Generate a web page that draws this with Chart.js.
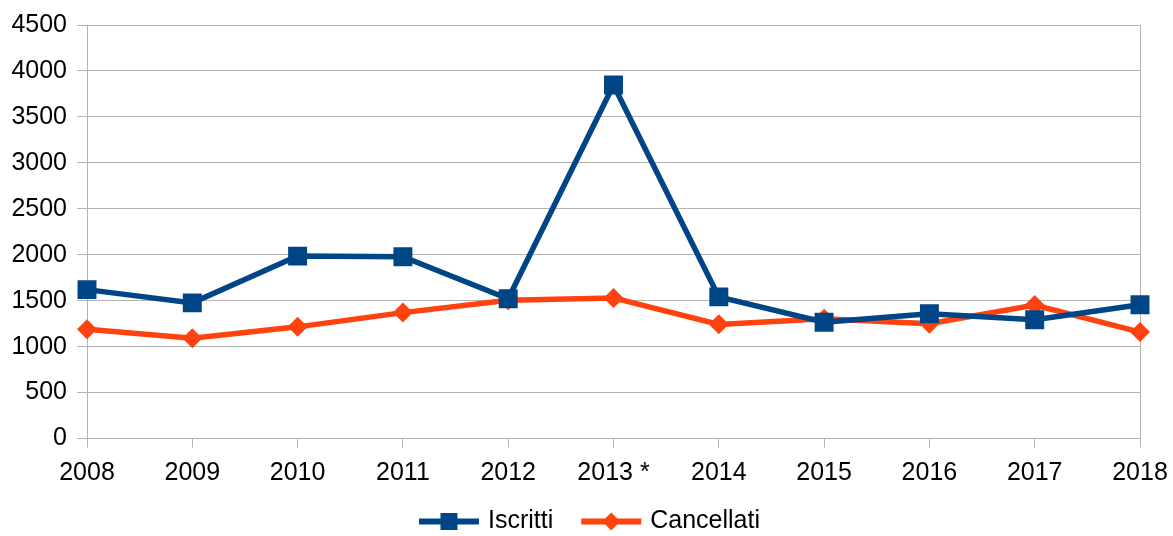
<!DOCTYPE html>
<html><head><meta charset="utf-8">
<script src="https://cdn.jsdelivr.net/npm/chart.js@4/dist/chart.umd.min.js"></script>
<style>html,body{margin:0;padding:0;background:#fff}#wrap{width:1173px;height:536px;position:relative}</style>
</head><body><div id="wrap"><canvas id="c" width="1173" height="536"></canvas></div>
<script>
const years = ['2008','2009','2010','2011','2012','2013 *','2014','2015','2016','2017','2018'];
const iscritti = [1620, 1476, 1985, 1978, 1520, 3848, 1541, 1265, 1358, 1293, 1456];
const cancellati = [1190, 1092, 1215, 1370, 1505, 1530, 1242, 1302, 1250, 1452, 1158];
const yTickValues = [0, 500, 1000, 1500, 2000, 2500, 3000, 3500, 4000, 4500];
const seriesNames = ['Iscritti', 'Cancellati'];

const BLUE = '#004586', ORANGE = '#ff420e', GRID = '#b3b3b3';
const FONT = {family: '"Liberation Sans", Arial, sans-serif', size: 25};

const lineLegend = {
  id: 'lineLegend',
  afterDraw(chart) {
    const ctx = chart.ctx;
    ctx.save();
    ctx.font = '25px "Liberation Sans", Arial, sans-serif';
    const items = chart.data.datasets.map(ds => ({ds, w: ctx.measureText(ds.label).width}));
    const lineW = 60, gap = 9, sep = 28;
    const total = items.reduce((s, it) => s + lineW + gap + it.w, 0) + sep * (items.length - 1);
    let x = (chart.width - total) / 2 + 3;
    const y = 521.5;
    items.forEach(it => {
      const c = it.ds.borderColor;
      ctx.strokeStyle = c; ctx.fillStyle = c; ctx.lineWidth = 6;
      ctx.beginPath(); ctx.moveTo(x, y); ctx.lineTo(x + lineW, y); ctx.stroke();
      const cx = x + lineW / 2;
      ctx.beginPath();
      if (it.ds.pointStyle === 'rect') {
        ctx.rect(cx - 8.5, y - 8.5, 17, 17);
      } else {
        ctx.moveTo(cx - 9, y); ctx.lineTo(cx, y - 9); ctx.lineTo(cx + 9, y); ctx.lineTo(cx, y + 9); ctx.closePath();
      }
      ctx.fill();
      ctx.fillStyle = '#000'; ctx.textBaseline = 'middle'; ctx.textAlign = 'left';
      ctx.fillText(it.ds.label, x + lineW + gap, y);
      x += lineW + gap + it.w + sep;
    });
    ctx.restore();
  }
};

new Chart(document.getElementById('c'), {
  type: 'line',
  data: {
    labels: years,
    datasets: [
      {label: seriesNames[0], data: iscritti, borderColor: BLUE, backgroundColor: BLUE, borderWidth: 5.5,
       pointStyle: 'rect', pointRadius: 13.4, pointBorderWidth: 0, pointBackgroundColor: BLUE, tension: 0},
      {label: seriesNames[1], data: cancellati, borderColor: ORANGE, backgroundColor: ORANGE, borderWidth: 5.5,
       pointStyle: 'rectRot', pointRadius: 10, pointBorderWidth: 0, pointBackgroundColor: ORANGE, tension: 0}
    ]
  },
  options: {
    responsive: false, animation: false, devicePixelRatio: 1,
    layout: {padding: {top: 25, right: 33, left: 0, bottom: 37.5}},
    plugins: {legend: {display: false}, tooltip: {enabled: false}},
    scales: {
      x: {
        offset: false,
        grid: {color: ctx => ctx.index === years.length - 1 ? GRID : 'rgba(0,0,0,0)', tickColor: GRID, tickLength: 9, lineWidth: 1},
        border: {display: true, color: GRID, width: 1},
        ticks: {color: '#000', font: FONT, padding: 11, maxRotation: 0, autoSkip: false},
        afterFit: s => { s.height = 60; s.paddingLeft = 0; s.paddingRight = 0; }
      },
      y: {
        min: 0, max: 4500,
        afterBuildTicks: s => { s.ticks = yTickValues.map(v => ({value: v})); },
        grid: {color: GRID, tickColor: GRID, tickLength: 10, lineWidth: 1},
        border: {display: true, color: GRID, width: 1},
        ticks: {color: '#000', font: FONT, padding: 10, callback: v => String(v)},
        afterFit: s => { s.width = 87; }
      }
    }
  },
  plugins: [lineLegend]
});
</script></body></html>
